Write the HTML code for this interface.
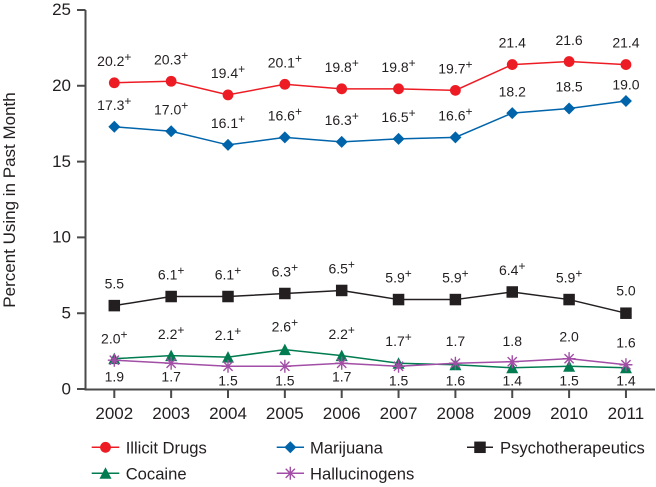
<!DOCTYPE html>
<html><head><meta charset="utf-8"><style>
html,body{margin:0;padding:0;background:#fff;}
svg{display:block;font-family:"Liberation Sans",Arial,sans-serif;}
</style></head><body>
<svg width="656" height="487" viewBox="0 0 656 487" xmlns="http://www.w3.org/2000/svg">
<defs>
<g id="star"><path d="M0,-6.5V6.5M-6.5,0H6.5M-4.6,-4.6L4.6,4.6M-4.6,4.6L4.6,-4.6" stroke="#a24ea6" stroke-width="1.4" fill="none"/></g>
</defs>
<!-- axes -->
<g stroke="#4a4a4a" stroke-width="2" fill="none">
<path d="M85.5,10V389.5H655"/>
<path d="M77,10H85.5M77,85.8H85.5M77,161.6H85.5M77,237.4H85.5M77,313.2H85.5M77,389H85.5"/>
<path d="M114.3,389V398M171.15,389V398M228,389V398M284.85,389V398M341.7,389V398M398.55,389V398M455.4,389V398M512.25,389V398M569.1,389V398M625.95,389V398"/>
</g>
<g font-size="17" fill="#231f20" text-anchor="end">
<text x="71" y="15">25</text>
<text x="71" y="91">20</text>
<text x="71" y="167">15</text>
<text x="71" y="242.5">10</text>
<text x="71" y="318.5">5</text>
<text x="71" y="394.5">0</text>
</g>
<g font-size="17" fill="#231f20" text-anchor="middle">
<text x="114.3" y="419">2002</text>
<text x="171.15" y="419">2003</text>
<text x="228" y="419">2004</text>
<text x="284.85" y="419">2005</text>
<text x="341.7" y="419">2006</text>
<text x="398.55" y="419">2007</text>
<text x="455.4" y="419">2008</text>
<text x="512.25" y="419">2009</text>
<text x="569.1" y="419">2010</text>
<text x="625.95" y="419">2011</text>
</g>
<text transform="translate(15,200) rotate(-90)" font-size="17" fill="#231f20" text-anchor="middle">Percent Using in Past Month</text>

<!-- Illicit -->
<polyline fill="none" stroke="#ed1c24" stroke-width="1.5" points="114.3,82.77 171.15,81.25 228,94.9 284.85,84.28 341.7,88.83 398.55,88.83 455.4,90.35 512.25,64.58 569.1,61.54 625.95,64.58"/>
<g fill="#ed1c24">
<circle cx="114.3" cy="82.77" r="5.4"/><circle cx="171.15" cy="81.25" r="5.4"/><circle cx="228" cy="94.9" r="5.4"/><circle cx="284.85" cy="84.28" r="5.4"/><circle cx="341.7" cy="88.83" r="5.4"/><circle cx="398.55" cy="88.83" r="5.4"/><circle cx="455.4" cy="90.35" r="5.4"/><circle cx="512.25" cy="64.58" r="5.4"/><circle cx="569.1" cy="61.54" r="5.4"/><circle cx="625.95" cy="64.58" r="5.4"/>
</g>
<!-- Marijuana -->
<polyline fill="none" stroke="#0064ab" stroke-width="1.5" points="114.3,126.73 171.15,131.28 228,144.92 284.85,137.34 341.7,141.89 398.55,138.86 455.4,137.34 512.25,113.09 569.1,108.54 625.95,100.96"/>
<g fill="#0064ab">
<path d="M114.3,120.73l6,6l-6,6l-6,-6z"/><path d="M171.15,125.28l6,6l-6,6l-6,-6z"/><path d="M228,138.92l6,6l-6,6l-6,-6z"/><path d="M284.85,131.34l6,6l-6,6l-6,-6z"/><path d="M341.7,135.89l6,6l-6,6l-6,-6z"/><path d="M398.55,132.86l6,6l-6,6l-6,-6z"/><path d="M455.4,131.34l6,6l-6,6l-6,-6z"/><path d="M512.25,107.09l6,6l-6,6l-6,-6z"/><path d="M569.1,102.54l6,6l-6,6l-6,-6z"/><path d="M625.95,94.96l6,6l-6,6l-6,-6z"/>
</g>
<!-- Psychotherapeutics -->
<polyline fill="none" stroke="#231f20" stroke-width="1.5" points="114.3,305.62 171.15,296.52 228,296.52 284.85,293.49 341.7,290.46 398.55,299.56 455.4,299.56 512.25,291.98 569.1,299.56 625.95,313.2"/>
<g fill="#231f20">
<rect x="108.55" y="299.87" width="11.5" height="11.5"/><rect x="165.4" y="290.77" width="11.5" height="11.5"/><rect x="222.25" y="290.77" width="11.5" height="11.5"/><rect x="279.1" y="287.74" width="11.5" height="11.5"/><rect x="335.95" y="284.71" width="11.5" height="11.5"/><rect x="392.8" y="293.81" width="11.5" height="11.5"/><rect x="449.65" y="293.81" width="11.5" height="11.5"/><rect x="506.5" y="286.23" width="11.5" height="11.5"/><rect x="563.35" y="293.81" width="11.5" height="11.5"/><rect x="620.2" y="307.45" width="11.5" height="11.5"/>
</g>
<!-- Cocaine -->
<polyline fill="none" stroke="#007c50" stroke-width="1.5" points="114.3,358.68 171.15,355.65 228,357.16 284.85,349.58 341.7,355.65 398.55,363.23 455.4,364.74 512.25,367.78 569.1,366.26 625.95,367.78"/>
<g fill="#007c50">
<path d="M114.3,352.68l6,11.5h-12z"/><path d="M171.15,349.65l6,11.5h-12z"/><path d="M228,351.16l6,11.5h-12z"/><path d="M284.85,343.58l6,11.5h-12z"/><path d="M341.7,349.65l6,11.5h-12z"/><path d="M398.55,357.23l6,11.5h-12z"/><path d="M455.4,358.74l6,11.5h-12z"/><path d="M512.25,361.78l6,11.5h-12z"/><path d="M569.1,360.26l6,11.5h-12z"/><path d="M625.95,361.78l6,11.5h-12z"/>
</g>
<!-- Hallucinogens -->
<polyline fill="none" stroke="#a24ea6" stroke-width="1.5" points="114.3,360.2 171.15,363.23 228,366.26 284.85,366.26 341.7,363.23 398.55,366.26 455.4,363.23 512.25,361.71 569.1,358.68 625.95,364.74"/>
<use href="#star" x="114.3" y="360.2"/><use href="#star" x="171.15" y="363.23"/><use href="#star" x="228" y="366.26"/><use href="#star" x="284.85" y="366.26"/><use href="#star" x="341.7" y="363.23"/><use href="#star" x="398.55" y="366.26"/><use href="#star" x="455.4" y="363.23"/><use href="#star" x="512.25" y="361.71"/><use href="#star" x="569.1" y="358.68"/><use href="#star" x="625.95" y="364.74"/>

<!-- data labels -->
<g font-size="14" fill="#231f20" text-anchor="middle">
<text x="114.3" y="65.8">20.2<tspan font-size="12" dy="-5">+</tspan></text>
<text x="171.15" y="64.3">20.3<tspan font-size="12" dy="-5">+</tspan></text>
<text x="228" y="77.9">19.4<tspan font-size="12" dy="-5">+</tspan></text>
<text x="284.85" y="67.3">20.1<tspan font-size="12" dy="-5">+</tspan></text>
<text x="341.7" y="71.8">19.8<tspan font-size="12" dy="-5">+</tspan></text>
<text x="398.55" y="71.8">19.8<tspan font-size="12" dy="-5">+</tspan></text>
<text x="455.4" y="73.4">19.7<tspan font-size="12" dy="-5">+</tspan></text>
<text x="512.25" y="47.6">21.4</text>
<text x="569.1" y="44.8">21.6</text>
<text x="625.95" y="47.6">21.4</text>

<text x="114.3" y="109.9">17.3<tspan font-size="12" dy="-5">+</tspan></text>
<text x="171.15" y="114.3">17.0<tspan font-size="12" dy="-5">+</tspan></text>
<text x="228" y="127.9">16.1<tspan font-size="12" dy="-5">+</tspan></text>
<text x="284.85" y="120.3">16.6<tspan font-size="12" dy="-5">+</tspan></text>
<text x="341.7" y="124.9">16.3<tspan font-size="12" dy="-5">+</tspan></text>
<text x="398.55" y="121.9">16.5<tspan font-size="12" dy="-5">+</tspan></text>
<text x="455.4" y="120.3">16.6<tspan font-size="12" dy="-5">+</tspan></text>
<text x="512.25" y="96.4">18.2</text>
<text x="569.1" y="91.7">18.5</text>
<text x="625.95" y="89.5">19.0</text>

<text x="114.3" y="288.5">5.5</text>
<text x="171.15" y="279.5">6.1<tspan font-size="12" dy="-5">+</tspan></text>
<text x="228" y="279.5">6.1<tspan font-size="12" dy="-5">+</tspan></text>
<text x="284.85" y="276.5">6.3<tspan font-size="12" dy="-5">+</tspan></text>
<text x="341.7" y="273.5">6.5<tspan font-size="12" dy="-5">+</tspan></text>
<text x="398.55" y="282.6">5.9<tspan font-size="12" dy="-5">+</tspan></text>
<text x="455.4" y="282.6">5.9<tspan font-size="12" dy="-5">+</tspan></text>
<text x="512.25" y="275">6.4<tspan font-size="12" dy="-5">+</tspan></text>
<text x="569.1" y="282.6">5.9<tspan font-size="12" dy="-5">+</tspan></text>
<text x="625.95" y="295.5">5.0</text>

<text x="114.3" y="343.3">2.0<tspan font-size="12" dy="-5">+</tspan></text>
<text x="171.15" y="339">2.2<tspan font-size="12" dy="-5">+</tspan></text>
<text x="228" y="340">2.1<tspan font-size="12" dy="-5">+</tspan></text>
<text x="284.85" y="331.7">2.6<tspan font-size="12" dy="-5">+</tspan></text>
<text x="341.7" y="339">2.2<tspan font-size="12" dy="-5">+</tspan></text>
<text x="398.55" y="346">1.7<tspan font-size="12" dy="-5">+</tspan></text>
<text x="455.4" y="346">1.7</text>
<text x="512.25" y="346">1.8</text>
<text x="569.1" y="341.7">2.0</text>
<text x="625.95" y="347.3">1.6</text>

<text x="114.3" y="381.7">1.9</text>
<text x="171.15" y="381.7">1.7</text>
<text x="228" y="385.7">1.5</text>
<text x="284.85" y="385.7">1.5</text>
<text x="341.7" y="381.7">1.7</text>
<text x="398.55" y="385.7">1.5</text>
<text x="455.4" y="385.7">1.6</text>
<text x="512.25" y="385.7">1.4</text>
<text x="569.1" y="385.7">1.5</text>
<text x="625.95" y="385.7">1.4</text>
</g>

<!-- legend -->
<g stroke-width="1.5" fill="none">
<path d="M91.7,447.3H119.3" stroke="#ed1c24"/>
<path d="M276.7,447.3H304" stroke="#0064ab"/>
<path d="M467,447.3H493" stroke="#231f20"/>
<path d="M91.7,473.3H119.3" stroke="#007c50"/>
<path d="M276.7,473.3H304" stroke="#a24ea6"/>
</g>
<circle cx="105.5" cy="447.3" r="5.4" fill="#ed1c24"/>
<path d="M290.3,441.3l6,6l-6,6l-6,-6z" fill="#0064ab"/>
<rect x="474.25" y="441.55" width="11.5" height="11.5" fill="#231f20"/>
<path d="M105.5,467.3l6,11.5h-12z" fill="#007c50"/>
<use href="#star" x="290.3" y="473.3"/>
<g font-size="16.6" fill="#231f20">
<text x="125.7" y="453.3">Illicit Drugs</text>
<text x="310" y="453.3">Marijuana</text>
<text x="500" y="453.3">Psychotherapeutics</text>
<text x="125.7" y="479.3">Cocaine</text>
<text x="310" y="479.3">Hallucinogens</text>
</g>
</svg>
</body></html>
